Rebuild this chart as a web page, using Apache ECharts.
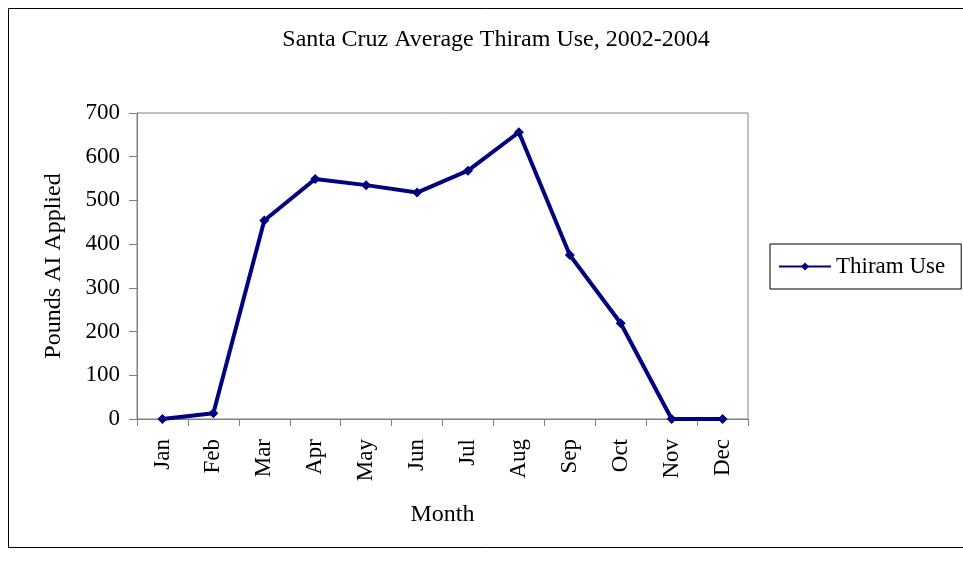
<!DOCTYPE html>
<html><head><meta charset="utf-8">
<script src="https://cdn.jsdelivr.net/npm/echarts@6/dist/echarts.min.js"></script>
<style>html,body{margin:0;padding:0;background:#fff}#c{width:963px;height:563px}</style>
</head><body><div id="c"></div>
<script>
const months = ['Jan','Feb','Mar','Apr','May','Jun','Jul','Aug','Sep','Oct','Nov','Dec'];
const thiramUse = [0, 13, 454, 549, 535, 518, 568, 656, 375, 219, 0, 0];
const yTicks = [0, 100, 200, 300, 400, 500, 600, 700];
const titleText = 'Santa Cruz Average Thiram Use, 2002-2004';
const font = 'Liberation Serif, Times New Roman, serif';

const chart = echarts.init(document.getElementById('c'));
chart.setOption({
  animation: false,
  backgroundColor: '#fff',
  graphic: [{
    type: 'rect', shape: {x: 8.5, y: 8.5, width: 980, height: 539},
    style: {fill: 'none', stroke: '#000', lineWidth: 1}, silent: true
  }],
  title: {
    text: titleText, left: 491, top: 23, textAlign: 'center',
    textStyle: {fontFamily: font, fontWeight: 'normal', fontSize: 24, color: '#000'}
  },
  legend: {
    data: ['Thiram Use'], left: 770, top: 244, orient: 'vertical',
    padding: [11, 16, 11, 8], borderColor: '#000', borderWidth: 1,
    itemWidth: 52, itemHeight: 10, itemGap: 0,
    textStyle: {fontFamily: font, fontSize: 23, color: '#000'}
  },
  grid: {left: 137, top: 113, right: 215, bottom: 144, show: true, borderColor: '#808080', borderWidth: 1, containLabel: false},
  xAxis: {
    type: 'category', data: months, boundaryGap: true,
    name: 'Month', nameLocation: 'middle', nameGap: 84,
    nameTextStyle: {fontFamily: font, fontSize: 24, color: '#000'},
    axisLine: {lineStyle: {color: '#808080', width: 1}},
    axisTick: {show: true, length: 7, inside: false, lineStyle: {color: '#808080'}},
    axisLabel: {rotate: 90, fontFamily: font, fontSize: 23, color: '#000', margin: 20}
  },
  yAxis: {
    type: 'value', min: 0, max: 700, interval: 100,
    name: 'Pounds AI Applied', nameLocation: 'middle', nameGap: 71,
    nameTextStyle: {fontFamily: font, fontSize: 24, color: '#000'},
    axisLine: {show: true, lineStyle: {color: '#808080', width: 1}},
    axisTick: {show: true, length: 8, lineStyle: {color: '#808080'}},
    splitLine: {show: false},
    axisLabel: {fontFamily: font, fontSize: 23, color: '#000', margin: 17,
      formatter: v => yTicks.includes(v) ? String(v) : ''}
  },
  series: [{
    name: 'Thiram Use', type: 'line', data: thiramUse,
    symbol: 'diamond', symbolSize: 10,
    lineStyle: {color: '#000080', width: 4},
    itemStyle: {color: '#000080'}
  }]
});
</script></body></html>
